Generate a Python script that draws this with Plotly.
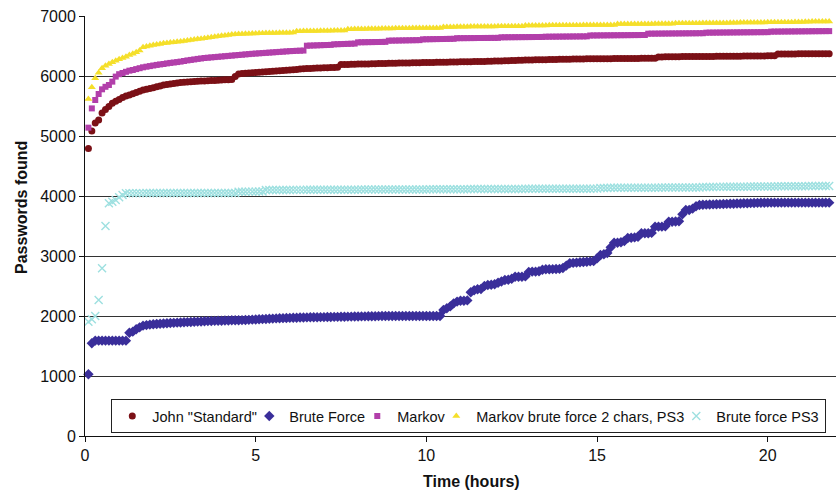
import plotly.graph_objects as go

# sampling clock: one reading every 0.1 h (6 min), from 0.1 h to 21.8 h
hours = [round(0.1 * k, 1) for k in range(1, 219)]

john_standard = [
    4790, 5083, 5217, 5267, 5383, 5440, 5490, 5545, 5580, 5610,
    5640, 5665, 5685, 5705, 5725, 5745, 5765, 5778, 5790, 5805,
    5820, 5835, 5848, 5858, 5866, 5874, 5882, 5890, 5895, 5900,
    5905, 5910, 5912, 5915, 5918, 5921, 5924, 5927, 5930, 5933,
    5936, 5939, 5942, 5990, 6035, 6040, 6045, 6050, 6054, 6058,
    6062, 6066, 6070, 6074, 6078, 6082, 6086, 6090, 6095, 6100,
    6105, 6110, 6115, 6120, 6123, 6126, 6129, 6132, 6135, 6137,
    6139, 6141, 6143, 6145, 6190, 6192, 6193, 6195, 6196, 6198,
    6199, 6201, 6202, 6204, 6205, 6207, 6208, 6210, 6211, 6213,
    6214, 6215, 6216, 6217, 6218, 6219, 6220, 6222, 6223, 6225,
    6226, 6227, 6228, 6229, 6230, 6231, 6232, 6233, 6234, 6236,
    6237, 6238, 6239, 6240, 6241, 6242, 6243, 6245, 6247, 6249,
    6250, 6252, 6254, 6256, 6258, 6260, 6262, 6264, 6266, 6267,
    6268, 6269, 6270, 6271, 6272, 6273, 6274, 6276, 6278, 6279,
    6280, 6281, 6282, 6283, 6284, 6285, 6286, 6286, 6287, 6287,
    6288, 6288, 6289, 6289, 6290, 6290, 6291, 6291, 6292, 6292,
    6293, 6293, 6294, 6294, 6294, 6294, 6294, 6317, 6318, 6319,
    6320, 6321, 6322, 6322, 6323, 6323, 6324, 6324, 6325, 6325,
    6326, 6326, 6327, 6327, 6328, 6328, 6329, 6329, 6330, 6330,
    6331, 6331, 6332, 6333, 6333, 6334, 6334, 6335, 6335, 6336,
    6336, 6337, 6367, 6367, 6368, 6368, 6368, 6368, 6369, 6369,
    6369, 6369, 6370, 6370, 6370, 6370, 6370, 6370,
]

brute_force = [
    1030, 1545, 1589, 1589, 1589, 1589, 1589, 1589, 1589, 1589,
    1589, 1589, 1722, 1739, 1780, 1811, 1839, 1848, 1856, 1862,
    1867, 1872, 1876, 1880, 1883, 1886, 1889, 1892, 1895, 1898,
    1900, 1903, 1906, 1909, 1912, 1915, 1917, 1919, 1920, 1922,
    1924, 1926, 1928, 1929, 1930, 1932, 1933, 1936, 1939, 1942,
    1945, 1948, 1951, 1954, 1957, 1960, 1962, 1964, 1966, 1968,
    1970, 1972, 1974, 1976, 1977, 1978, 1979, 1980, 1981, 1982,
    1983, 1984, 1985, 1986, 1987, 1988, 1989, 1990, 1991, 1992,
    1993, 1994, 1995, 1996, 1997, 1998, 1999, 2000, 2000, 2000,
    2000, 2000, 2000, 2000, 2000, 2000, 2000, 2000, 2000, 2000,
    2000, 2000, 2000, 2000, 2100, 2130, 2160, 2211, 2240, 2255,
    2255, 2260, 2395, 2430, 2445, 2450, 2500, 2517, 2522, 2528,
    2555, 2575, 2600, 2605, 2620, 2655, 2655, 2655, 2660, 2735,
    2739, 2739, 2745, 2770, 2778, 2780, 2781, 2783, 2785, 2800,
    2840, 2878, 2885, 2890, 2895, 2900, 2905, 2910, 2917, 2960,
    3017, 3030, 3050, 3144, 3222, 3222, 3230, 3250, 3300, 3305,
    3310, 3320, 3378, 3378, 3380, 3385, 3489, 3489, 3489, 3495,
    3572, 3572, 3575, 3578, 3694, 3767, 3767, 3790, 3830, 3850,
    3853, 3856, 3858, 3860, 3862, 3864, 3866, 3868, 3870, 3872,
    3874, 3876, 3878, 3880, 3882, 3884, 3886, 3887, 3888, 3889,
    3889, 3889, 3889, 3889, 3889, 3889, 3889, 3889, 3889, 3889,
    3889, 3889, 3889, 3889, 3889, 3889, 3889, 3889,
]

markov = [
    5139, 5460, 5600, 5700, 5778, 5820, 5850, 5906, 5990, 6030,
    6050, 6070, 6089, 6100, 6115, 6130, 6145, 6155, 6165, 6175,
    6185, 6193, 6200, 6210, 6218, 6225, 6232, 6240, 6250, 6260,
    6268, 6276, 6285, 6292, 6300, 6305, 6310, 6315, 6320, 6325,
    6330, 6335, 6340, 6345, 6350, 6355, 6360, 6365, 6370, 6374,
    6378, 6382, 6386, 6390, 6394, 6398, 6402, 6406, 6410, 6414,
    6417, 6420, 6422, 6424, 6505, 6507, 6509, 6511, 6513, 6515,
    6517, 6519, 6528, 6530, 6532, 6534, 6536, 6538, 6540, 6561,
    6562, 6563, 6564, 6565, 6566, 6567, 6568, 6569, 6589, 6590,
    6591, 6592, 6593, 6594, 6595, 6596, 6597, 6598, 6611, 6612,
    6613, 6614, 6615, 6616, 6617, 6618, 6619, 6620, 6630, 6630,
    6631, 6631, 6632, 6632, 6633, 6633, 6634, 6634, 6635, 6635,
    6636, 6645, 6645, 6646, 6646, 6647, 6647, 6648, 6648, 6649,
    6649, 6650, 6650, 6651, 6655, 6655, 6656, 6656, 6657, 6657,
    6658, 6658, 6659, 6659, 6660, 6660, 6661, 6675, 6676, 6676,
    6677, 6677, 6678, 6678, 6679, 6679, 6680, 6680, 6681, 6681,
    6682, 6682, 6683, 6683, 6705, 6706, 6706, 6707, 6707, 6708,
    6708, 6709, 6709, 6710, 6710, 6711, 6711, 6712, 6712, 6713,
    6713, 6722, 6723, 6723, 6724, 6724, 6725, 6725, 6726, 6726,
    6727, 6727, 6728, 6728, 6729, 6729, 6730, 6730, 6731, 6731,
    6740, 6740, 6741, 6741, 6742, 6742, 6743, 6743, 6744, 6744,
    6745, 6745, 6746, 6746, 6747, 6747, 6748, 6748,
]

markov_bf2_ps3 = [
    5617, 5811, 5961, 6055, 6128, 6170, 6200, 6230, 6255, 6280,
    6300, 6320, 6350, 6370, 6395, 6425, 6480, 6492, 6505, 6515,
    6525, 6535, 6545, 6552, 6558, 6564, 6570, 6576, 6584, 6592,
    6600, 6608, 6615, 6622, 6630, 6638, 6646, 6654, 6662, 6670,
    6677, 6684, 6690, 6695, 6698, 6701, 6704, 6706, 6708, 6710,
    6712, 6714, 6715, 6716, 6717, 6718, 6719, 6720, 6721, 6722,
    6723, 6745, 6746, 6748, 6749, 6750, 6751, 6752, 6753, 6754,
    6755, 6756, 6757, 6758, 6759, 6760, 6780, 6781, 6782, 6783,
    6784, 6785, 6786, 6787, 6788, 6789, 6790, 6791, 6792, 6793,
    6794, 6795, 6796, 6797, 6797, 6798, 6798, 6799, 6799, 6800,
    6800, 6800, 6800, 6800, 6815, 6816, 6817, 6818, 6819, 6820,
    6821, 6822, 6823, 6824, 6825, 6825, 6826, 6826, 6827, 6827,
    6828, 6828, 6829, 6829, 6830, 6830, 6830, 6830, 6840, 6841,
    6841, 6842, 6842, 6843, 6843, 6844, 6844, 6845, 6845, 6846,
    6846, 6846, 6847, 6847, 6847, 6848, 6848, 6848, 6849, 6849,
    6849, 6849, 6850, 6850, 6850, 6865, 6865, 6866, 6866, 6866,
    6867, 6867, 6867, 6868, 6868, 6868, 6869, 6869, 6869, 6870,
    6870, 6870, 6878, 6878, 6879, 6879, 6880, 6880, 6881, 6881,
    6882, 6882, 6883, 6883, 6884, 6884, 6885, 6885, 6886, 6886,
    6887, 6890, 6890, 6891, 6891, 6892, 6892, 6893, 6893, 6894,
    6894, 6895, 6895, 6896, 6896, 6897, 6897, 6898, 6898, 6899,
    6906, 6906, 6907, 6907, 6908, 6908, 6909, 6909,
]

brute_force_ps3 = [
    1905, 1944, 2000, 2267, 2795, 3500, 3878, 3906, 3933, 3978,
    4017, 4045, 4048, 4048, 4048, 4048, 4048, 4049, 4049, 4049,
    4049, 4049, 4049, 4049, 4049, 4049, 4049, 4050, 4050, 4050,
    4050, 4050, 4050, 4050, 4050, 4050, 4050, 4050, 4050, 4050,
    4050, 4050, 4050, 4050, 4072, 4072, 4072, 4073, 4073, 4073,
    4074, 4074, 4100, 4100, 4100, 4100, 4101, 4101, 4101, 4101,
    4102, 4102, 4102, 4102, 4103, 4103, 4103, 4103, 4104, 4104,
    4104, 4104, 4105, 4105, 4105, 4105, 4106, 4106, 4106, 4106,
    4107, 4107, 4107, 4107, 4108, 4108, 4108, 4108, 4109, 4109,
    4109, 4109, 4110, 4110, 4110, 4110, 4110, 4110, 4110, 4110,
    4112, 4112, 4112, 4112, 4113, 4113, 4113, 4113, 4114, 4114,
    4114, 4114, 4115, 4115, 4115, 4115, 4116, 4116, 4116, 4116,
    4117, 4117, 4117, 4117, 4118, 4118, 4118, 4118, 4119, 4119,
    4119, 4119, 4120, 4120, 4120, 4120, 4120, 4120, 4120, 4120,
    4121, 4121, 4121, 4121, 4122, 4122, 4122, 4122, 4123, 4123,
    4135, 4135, 4135, 4136, 4136, 4136, 4137, 4137, 4137, 4137,
    4138, 4138, 4138, 4138, 4139, 4139, 4139, 4139, 4140, 4140,
    4140, 4140, 4141, 4141, 4141, 4141, 4142, 4142, 4142, 4142,
    4150, 4150, 4151, 4151, 4152, 4152, 4153, 4153, 4154, 4154,
    4155, 4155, 4156, 4156, 4157, 4157, 4158, 4158, 4159, 4159,
    4160, 4160, 4161, 4161, 4162, 4162, 4163, 4163, 4164, 4164,
    4164, 4165, 4165, 4165, 4165, 4165, 4165, 4165,
]

series_names = ['John "Standard"', "Brute Force", "Markov",
                "Markov brute force 2 chars, PS3", "Brute force PS3"]
x_ticks = [0, 5, 10, 15, 20]
y_ticks = [0, 1000, 2000, 3000, 4000, 5000, 6000, 7000]
x_title = "Time (hours)"
y_title = "Passwords found"

FONT = "Liberation Sans, Arial, Helvetica, sans-serif"
INK = "#111111"
LEG_SIZE = 14.5

styles = [
    dict(symbol="circle", size=7, color="#7B1016", line=dict(width=0)),
    dict(symbol="diamond", size=8, color="#3A2E9A", line=dict(width=0)),
    dict(symbol="square", size=6, color="#B23FAA", line=dict(width=0)),
    dict(symbol="triangle-up", size=7, color="#F5DF2A", line=dict(width=0)),
    dict(symbol="x-thin", size=8, color="#9EE0E0",
         line=dict(color="#9EE0E0", width=1.4)),
]
# legend entry widths tightened so that entries sit close together
legend_widths = [92, 63, 34, 195, 104]

fig = go.Figure()
for name, vals, mk, lw in zip(series_names,
                              [john_standard, brute_force, markov,
                               markov_bf2_ps3, brute_force_ps3],
                              styles, legend_widths):
    fig.add_trace(go.Scatter(x=hours, y=vals, mode="markers", name=name,
                             marker=mk, cliponaxis=False, legendwidth=lw))

fig.update_layout(
    width=836, height=491,
    margin=dict(l=85, r=0, t=16, b=55, autoexpand=False),
    paper_bgcolor="white", plot_bgcolor="white",
    font=dict(family=FONT, color=INK),
    showlegend=True,
    legend=dict(
        orientation="h", x=0.035, y=0.088, xanchor="left", yanchor="top",
        bgcolor="white", bordercolor="#222", borderwidth=1,
        font=dict(size=LEG_SIZE, family=FONT, color=INK),
        itemwidth=30, tracegroupgap=0,
    ),
    xaxis=dict(
        range=[0, 22], tickvals=x_ticks, showgrid=False, zeroline=False,
        showline=True, linecolor=INK, linewidth=1,
        ticks="outside", ticklen=5, tickcolor=INK,
        tickfont=dict(size=16, family=FONT, color=INK),
    ),
    yaxis=dict(
        range=[0, 7000], tickvals=y_ticks, showgrid=True,
        gridcolor="#333333", gridwidth=1, zeroline=False,
        showline=True, linecolor=INK, linewidth=1,
        ticks="outside", ticklen=5, tickcolor=INK,
        tickfont=dict(size=16, family=FONT, color=INK),
    ),
    annotations=[
        dict(text="<b>%s</b>" % x_title, xref="paper", yref="paper",
             x=(471 - 85) / 751, y=-(481 - 436) / 420,
             xanchor="center", yanchor="middle", showarrow=False,
             font=dict(size=16, family=FONT, color=INK)),
        dict(text="<b>%s</b>" % y_title, xref="paper", yref="paper",
             x=-(85 - 21) / 751, y=(436 - 208) / 420, textangle=-90,
             xanchor="center", yanchor="middle", showarrow=False,
             font=dict(size=16, family=FONT, color=INK)),
    ],
)

fig.write_html("out.html")
